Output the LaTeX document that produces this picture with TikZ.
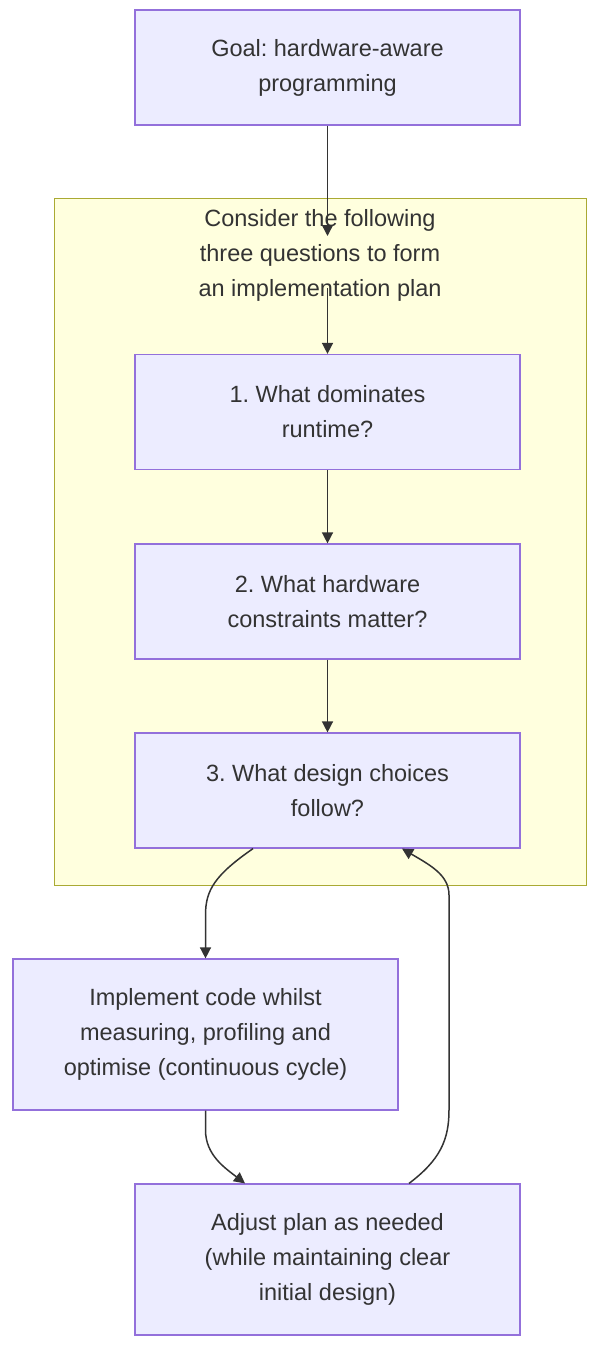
\documentclass[tikz,border=0pt]{standalone}
\usepackage{fontspec}
\setmainfont{Liberation Sans}
\usetikzlibrary{arrows.meta,positioning,calc}

\definecolor{boxfill}{HTML}{ECECFF}
\definecolor{boxline}{HTML}{9370DB}
\definecolor{grpfill}{HTML}{FFFFDE}
\definecolor{grpline}{HTML}{AAAA33}
\definecolor{txt}{HTML}{333333}
\frenchspacing

\begin{document}
\begin{tikzpicture}[
  x=1pt, y=-1pt,
  every node/.style={font=\fontsize{23.5}{35}\selectfont, text=txt, align=center},
  stepbox/.style={draw=boxline, fill=boxfill, line width=1.2pt,
    minimum width=385pt, minimum height=115pt, inner sep=0pt},
  tallbox/.style={stepbox, minimum height=151pt},
  edge/.style={-{Triangle[length=11pt,width=11pt]}, line width=1.5pt, draw=txt},
]
  \useasboundingbox (0,0) rectangle (602,1367);
  % group of the three questions
  \draw[fill=grpfill, draw=grpline, line width=1pt] (54,199) rectangle (586,885);
  \node (title) at (320,255) {Consider the following\\three questions to form\\an implementation plan};

  \node[stepbox] (goal)   at (327.5,67.5)  {Goal: hardware-aware\\programming};
  \node[stepbox] (q1)     at (327.5,412)   {1. What dominates\\runtime?};
  \node[stepbox] (q2)     at (327.5,601.5) {2. What hardware\\constraints matter?};
  \node[stepbox] (q3)     at (327.5,790.5) {3. What design choices\\follow?};
  \node[tallbox] (impl)   at (205.5,1034.5){Implement code whilst\\measuring, profiling and\\optimise (continuous cycle)};
  \node[tallbox] (adjust) at (327.5,1259.5){Adjust plan as needed\\(while maintaining clear\\initial design)};

  \coordinate (intop) at (327.5,236);
  \coordinate (inbot) at (327.5,288);

  \draw[edge] (goal) -- (intop);
  \draw[edge] (inbot) -- (q1);
  \draw[edge] (q1) -- (q2);
  \draw[edge] (q2) -- (q3);
  \draw[edge] ([xshift=-74.5pt]q3.south) .. controls (215,875) and (205.5,890) .. (205.5,915) -- (impl.north);
  \draw[edge] (impl.south) -- (205.5,1130) .. controls (205.5,1155) and (225,1168) .. ([xshift=-82.5pt]adjust.north);
  \draw[edge] ([xshift=81.5pt]adjust.north) .. controls (440,1160) and (449,1140) .. (449,1110)
    -- (449,895) .. controls (449,875) and (430,865) .. ([xshift=74.5pt]q3.south);
\end{tikzpicture}
\end{document}
